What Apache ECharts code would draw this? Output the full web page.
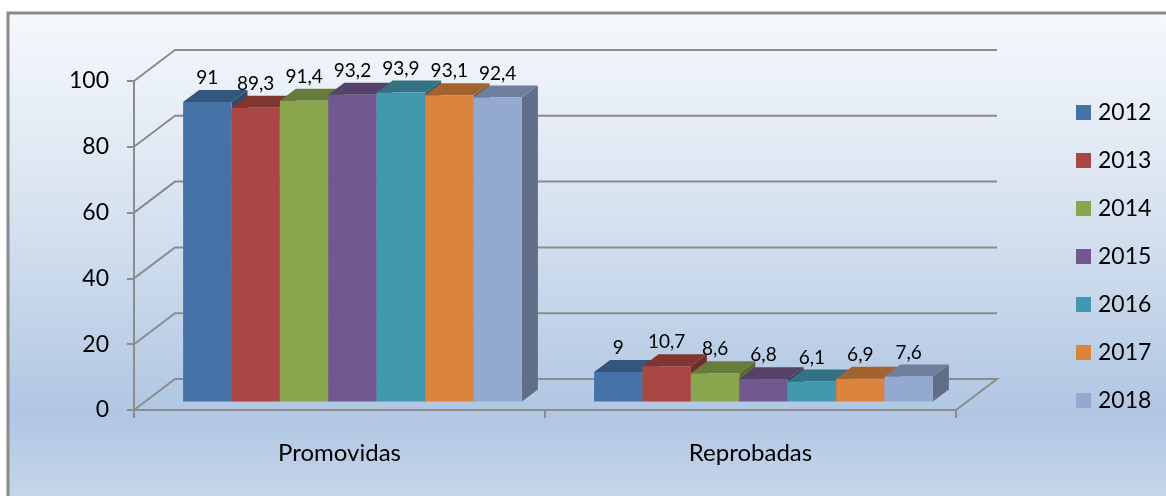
<!DOCTYPE html>
<html>
<head>
<meta charset="utf-8">
<style>
  html, body { margin: 0; padding: 0; background: #fff; }
  #chart { width: 1166px; height: 496px; }
</style>
<script src="https://cdn.jsdelivr.net/npm/echarts@6/dist/echarts.min.js"></script>
</head>
<body>
<div id="chart"></div>
<script>
const categories = ['Promovidas', 'Reprobadas'];
const years = ['2012', '2013', '2014', '2015', '2016', '2017', '2018'];
const values2012 = [91, 9];
const values2013 = [89.3, 10.7];
const values2014 = [91.4, 8.6];
const values2015 = [93.2, 6.8];
const values2016 = [93.9, 6.1];
const values2017 = [93.1, 6.9];
const values2018 = [92.4, 7.6];
const yTicks = [0, 20, 40, 60, 80, 100];

const allValues = [values2012, values2013, values2014, values2015, values2016, values2017, values2018];
const colors = ['#4573a7', '#aa4643', '#89a54e', '#71588f', '#4298af', '#db843d', '#93a9cf'];
const topColors = ['#34567d', '#803532', '#677c3b', '#55426b', '#327283', '#a4632e', '#6e7f9b'];
const sideColors = ['#2d4b6c', '#6e2e2c', '#596b33', '#49395d', '#2b6372', '#8e5628', '#606e87'];

// fake 3D: wall offset from the axis plane, bar depth and bar placement in the band
const wallDx = 41, wallDy = -31;
const depthDx = 16, depthDy = -12;
const barW = 48.4, barShiftX = 13, barShiftY = -8.5;
const gridColor = '#8c8c8c';

const chart = echarts.init(document.getElementById('chart'));

const poly = (points, fill, z2) => ({
  type: 'polygon',
  shape: { points },
  style: { fill },
  z2
});

const renderBar = (seriesIndex) => (params, api) => {
  const cat = api.value(0);
  const base = api.coord([cat, 0]);
  const top = api.coord([cat, api.value(1)]);
  const x0 = base[0] + barShiftX + (seriesIndex - years.length / 2) * barW;
  const x1 = x0 + barW;
  const y0 = base[1] + barShiftY;
  const y1 = top[1] + barShiftY;
  return {
    type: 'group',
    children: [
      poly([[x1, y1], [x1 + depthDx, y1 + depthDy], [x1 + depthDx, y0 + depthDy], [x1, y0]],
        sideColors[seriesIndex], 1),
      poly([[x0, y1], [x0 + depthDx, y1 + depthDy], [x1 + depthDx, y1 + depthDy], [x1, y1]],
        topColors[seriesIndex], 1),
      poly([[x0, y1], [x1, y1], [x1, y0], [x0, y0]], colors[seriesIndex], 2),
      {
        type: 'text',
        x: (x0 + x1) / 2,
        y: y1 - 24,
        z2: 10,
        style: {
          text: String(api.value(1)).replace('.', ','),
          fontFamily: 'Lato',
          fontSize: 19,
          fill: '#000',
          align: 'center',
          verticalAlign: 'middle'
        }
      }
    ]
  };
};

const renderWall = (params, api) => {
  const rect = params.coordSys;
  const y = api.coord([0, api.value(0)])[1];
  const left = rect.x;
  const right = rect.x + rect.width;
  const lineStyle = { stroke: gridColor, lineWidth: 2, fill: 'none' };
  const points = [[left, y], [left + wallDx, y + wallDy], [right + wallDx, y + wallDy]];
  if (api.value(0) === 0) points.push([right, y]);
  return { type: 'polyline', shape: { points }, style: lineStyle };
};

const barSeries = years.map((year, i) => ({
  name: year,
  type: 'custom',
  coordinateSystem: 'cartesian2d',
  clip: false,
  z: 3,
  itemStyle: { color: colors[i] },
  encode: { x: 0, y: 1 },
  renderItem: renderBar(i),
  data: allValues[i].map((v, c) => [categories[c], v])
}));

chart.setOption({
  animation: false,
  graphic: [{
    type: 'rect',
    z: -1,
    silent: true,
    shape: { x: 8, y: 13, width: 1200, height: 500 },
    style: {
      stroke: '#8a8a8a',
      lineWidth: 3,
      fill: {
        type: 'linear', x: 0, y: 0, x2: 0, y2: 1,
        colorStops: [
          { offset: 0, color: '#f6f9fd' },
          { offset: 0.4, color: '#d7e2f0' },
          { offset: 0.8, color: '#b0c6e2' },
          { offset: 1, color: '#cad9ec' }
        ]
      }
    }
  }],
  grid: { left: 134, right: 210, top: 81, bottom: 86 },
  legend: {
    data: years,
    orient: 'vertical',
    left: 1076,
    top: 101,
    padding: 0,
    icon: 'rect',
    itemWidth: 15,
    itemHeight: 15,
    itemGap: 25,
    selectedMode: false,
    textStyle: { fontFamily: 'Lato', fontSize: 23, color: '#000', padding: [0, 0, 0, 2] }
  },
  xAxis: {
    type: 'category',
    data: categories,
    axisLine: { lineStyle: { color: gridColor, width: 2 } },
    axisTick: { show: true, length: 8, lineStyle: { color: gridColor, width: 2 } },
    axisLabel: { fontFamily: 'Lato', fontSize: 24, color: '#000', margin: 31 }
  },
  yAxis: {
    type: 'value',
    min: 0,
    max: 100,
    interval: 20,
    splitLine: { show: false },
    axisLine: { show: true, lineStyle: { color: gridColor, width: 2 } },
    axisTick: { show: true, length: 7, lineStyle: { color: gridColor, width: 2 } },
    axisLabel: { fontFamily: 'Lato', fontSize: 23, color: '#000', margin: 25 }
  },
  series: [
    {
      type: 'custom',
      coordinateSystem: 'cartesian2d',
      clip: false,
      silent: true,
      z: 1,
      encode: { y: 0 },
      renderItem: renderWall,
      data: yTicks.map(v => [v])
    },
    ...barSeries
  ]
});
</script>
</body>
</html>
